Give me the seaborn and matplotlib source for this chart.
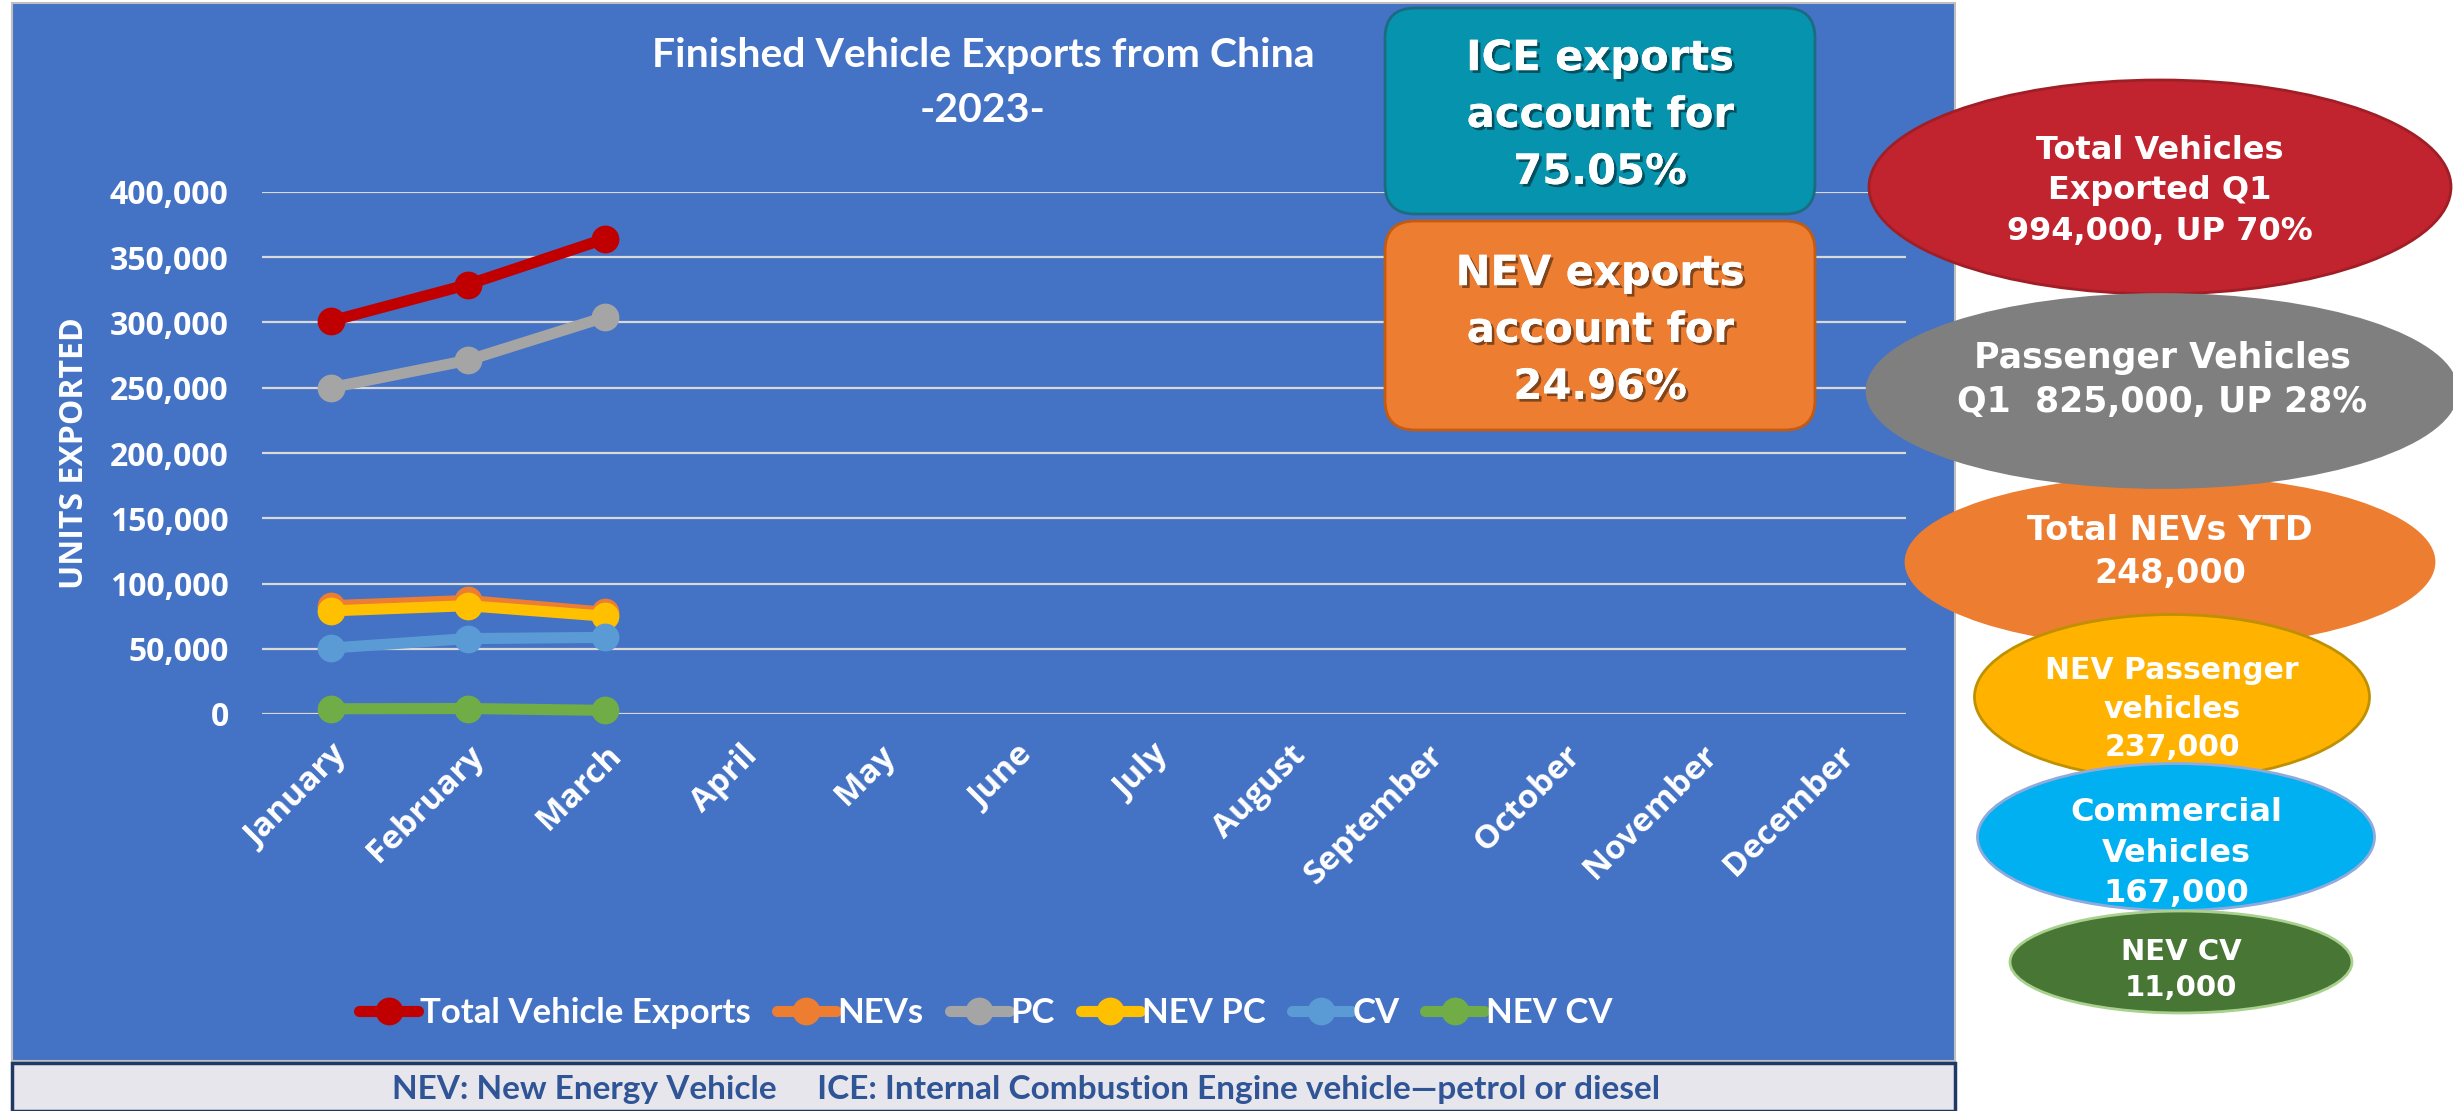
import matplotlib
matplotlib.use("Agg")
import matplotlib.pyplot as plt
import matplotlib.patches as mpatches
import matplotlib.patheffects as pe
from matplotlib.lines import Line2D
import seaborn as sns
import pandas as pd

# data
MONTHS = ["January", "February", "March", "April", "May", "June", "July",
          "August", "September", "October", "November", "December"]
SERIES = ["Total Vehicle Exports", "NEVs", "PC", "NEV PC", "CV", "NEV CV"]
TOTAL = [301000, 329000, 364000]
NEVS = [83000, 87000, 78000]
PC = [250000, 271000, 304000]
NEV_PC = [79000, 83000, 75000]
CV = [50500, 57800, 58700]
NEV_CV = [4000, 4200, 2800]
Y_TICKS = [0, 50000, 100000, 150000, 200000, 250000, 300000, 350000, 400000]

COLORS = {
    "Total Vehicle Exports": "#C00000",
    "NEVs": "#ED7D31",
    "PC": "#A5A5A5",
    "NEV PC": "#FFC000",
    "CV": "#5B9BD5",
    "NEV CV": "#70AD47",
}

W, H = 2453, 1111
PANEL = "#4472C4"


def fx(x):
    return x / W


def fy(y):
    return 1 - y / H


sns.set_theme(style="white")
plt.rcParams["font.family"] = ["Lato", "DejaVu Sans"]

fig = plt.figure(figsize=(W / 100, H / 100), dpi=100)
fig.patch.set_facecolor("white")

# blue chart panel and footer strip (behind the axes)
fig.patches.append(mpatches.Rectangle((fx(12), fy(1061)), fx(1955) - fx(12), fy(3) - fy(1061),
                                      transform=fig.transFigure, facecolor=PANEL,
                                      edgecolor="#BFBFBF", lw=1.5, zorder=-2))
fig.patches.append(mpatches.Rectangle((fx(12), fy(1111)), fx(1955) - fx(12), fy(1063) - fy(1111),
                                      transform=fig.transFigure, facecolor="#E7E6EC",
                                      edgecolor="#1F3864", lw=2.5, zorder=-2))

# long-form table for seaborn
values = {"Total Vehicle Exports": TOTAL, "NEVs": NEVS, "PC": PC,
          "NEV PC": NEV_PC, "CV": CV, "NEV CV": NEV_CV}
rows = []
for name in SERIES:
    for i, v in enumerate(values[name]):
        rows.append({"month": i, "series": name, "units": v})
df = pd.DataFrame(rows)

ax = fig.add_axes([fx(262), fy(714), fx(1906) - fx(262), fy(192) - fy(714)])
ax.set_facecolor("none")
sns.lineplot(data=df, x="month", y="units", hue="series", hue_order=SERIES,
             palette=COLORS, marker="o", markersize=20, markeredgewidth=0,
             linewidth=8, ax=ax, legend=False, clip_on=False, zorder=3)

ax.set_xlim(-0.5, 11.5)
ax.set_ylim(0, 400000)
ax.set_yticks(Y_TICKS)
ax.set_yticklabels([f"{v:,}" for v in Y_TICKS], fontfamily="Open Sans",
                   fontweight="bold", fontsize=23, color="white")
ax.set_xticks(range(len(MONTHS)))
ax.set_xticklabels(MONTHS, rotation=45, ha="right", rotation_mode="anchor",
                   fontfamily="Open Sans", fontweight="bold", fontsize=24, color="white")
ax.tick_params(axis="y", length=0, pad=24)
ax.tick_params(axis="x", length=0, pad=18)
for lab in ax.get_xticklabels():
    lab.set_verticalalignment("top")
ax.grid(axis="y", color="#D9D9D9", linewidth=1.6)
ax.set_axisbelow(True)
for s in ax.spines.values():
    s.set_visible(False)
ax.set_xlabel("")
ax.set_ylabel("UNITS EXPORTED", fontfamily="Open Sans", fontweight="bold",
              fontsize=23, color="white")
ax.yaxis.set_label_coords(-0.104, 0.5)

# title
fig.text(fx(983), fy(55), "Finished Vehicle Exports from China", ha="center", va="center",
         fontsize=29.5, fontweight="bold", color="white")
fig.text(fx(983), fy(110), "-2023-", ha="center", va="center",
         fontsize=29.5, fontweight="bold", color="white")

# legend
handles = [Line2D([], [], color=COLORS[n], lw=8, marker="o", markersize=20,
                  markeredgewidth=0) for n in SERIES]
fig.legend(handles, SERIES, loc="center", bbox_to_anchor=(fx(986), fy(1013)), ncol=6,
           frameon=False, handlelength=1.7, handletextpad=0.05, columnspacing=0.75,
           prop={"family": "Lato", "weight": "bold", "size": 25}, labelcolor="white")

# footer note
fig.text(fx(1026), fy(1089),
         "NEV: New Energy Vehicle     ICE: Internal Combustion Engine vehicle\u2014petrol or diesel",
         ha="center", va="center", fontsize=24, fontweight="bold", color="#2F5597")

# overlay for callouts
ov = fig.add_axes([0, 0, 1, 1])
ov.set_xlim(0, W)
ov.set_ylim(H, 0)
ov.axis("off")
ov.patch.set_alpha(0)

shadow = [pe.withSimplePatchShadow(offset=(2, -2), shadow_rgbFace="black", alpha=0.45), pe.Normal()]
boxes = [
    (1385, 8, 430, 206, "#0593AE", "#1B6B82", "ICE exports\naccount for\n75.05%", 115),
    (1385, 221, 430, 209, "#ED7D31", "#C55A11", "NEV exports\naccount for\n24.96%", 330),
]
for x0, y0, bw, bh, fc, ec, txt, ty in boxes:
    ov.add_patch(mpatches.FancyBboxPatch((x0 + 30, y0 + 30), bw - 60, bh - 60,
                                         boxstyle="round,pad=30", facecolor=fc,
                                         edgecolor=ec, lw=2, zorder=5))
    ov.text(1600, ty, txt, ha="center", va="center", fontfamily="DejaVu Sans",
            fontweight="bold", fontsize=30, color="white", linespacing=1.45,
            path_effects=shadow, zorder=6)

ellipses = [
    # cx, cy, w, h, face, edge, text, ty, size, z
    (2170, 562, 528, 170, "#ED7D31", "#ED7D31", "Total NEVs YTD\n248,000", 552, 24, 1),
    (2160, 187, 582, 214, "#C1232F", "#A01E25", "Total Vehicles\nExported Q1\n994,000, UP 70%", 191, 23, 2),
    (2162, 391, 590, 193, "#7F7F7F", "#7F7F7F", "Passenger Vehicles\nQ1  825,000, UP 28%", 380, 25, 3),
    (2172, 697, 395, 165, "#FFB300", "#BF9000", "NEV Passenger\nvehicles\n237,000", 709, 21.5, 4),
    (2176, 837, 397, 147, "#00B0F0", "#8FAADC", "Commercial\nVehicles\n167,000", 853, 23, 5),
    (2181, 962, 342, 102, "#487634", "#A9D18E", "NEV CV\n11,000", 970, 21, 6),
]
for cx, cy, ew, eh, fc, ec, txt, ty, fs, z in ellipses:
    ov.add_patch(mpatches.Ellipse((cx, cy), ew, eh, facecolor=fc, edgecolor=ec, lw=2, zorder=z))
    ov.text(cx, ty, txt, ha="center", va="center", fontfamily="DejaVu Sans",
            fontweight="bold", fontsize=fs, color="white", linespacing=1.4, zorder=z)

fig.savefig("out.png", dpi=100)
